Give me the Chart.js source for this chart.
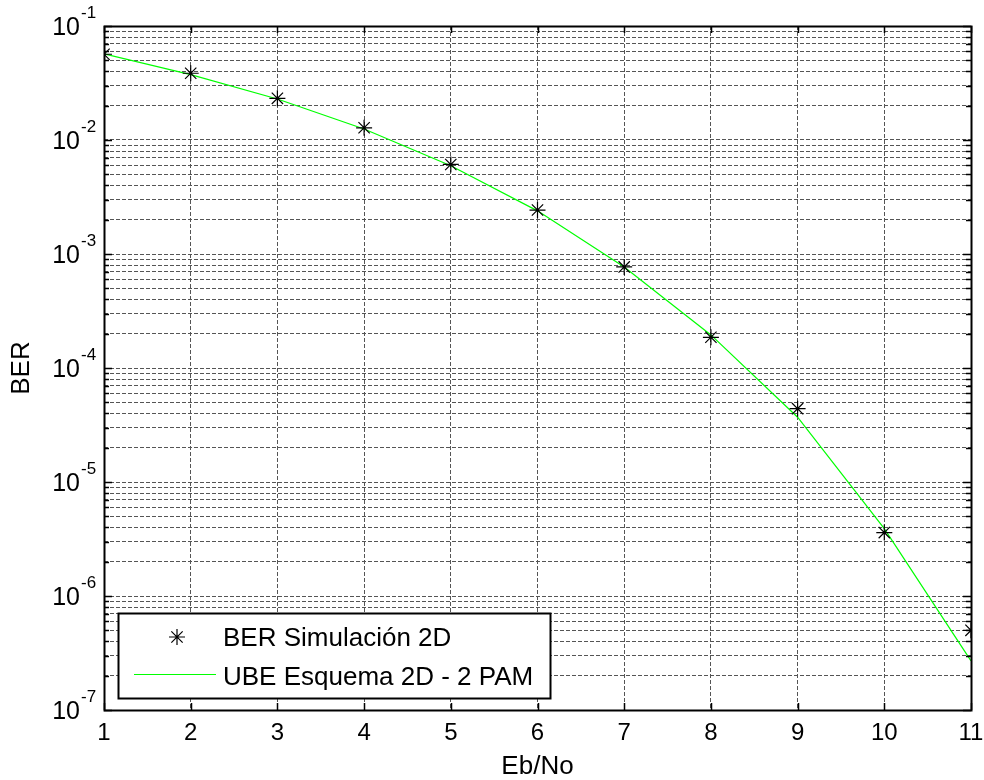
<!DOCTYPE html>
<html>
<head>
<meta charset="utf-8">
<script src="https://cdn.jsdelivr.net/npm/chart.js@4.4.1/dist/chart.umd.min.js"></script>
<style>
  html, body { margin: 0; padding: 0; background: #fff; }
  #wrap { width: 984px; height: 780px; }
</style>
</head>
<body>
<div id="wrap"><canvas id="berChart" width="984" height="780"></canvas></div>
<script>
// Eb/No (dB) on x, BER on log y
const ebno = [1, 2, 3, 4, 5, 6, 7, 8, 9, 10, 11];
const berSim = [0.0565, 0.0385, 0.0232, 0.0128, 0.0061, 0.00243, 7.7e-4, 1.86e-4, 4.4e-5, 3.6e-6, 5.0e-7];
const berUbe = [0.057, 0.0375, 0.0229, 0.0125, 0.00595, 0.00239, 7.7e-4, 1.95e-4, 3.7e-5, 3.9e-6, 2.7e-7];

const xTicks = [1, 2, 3, 4, 5, 6, 7, 8, 9, 10, 11];
const yDecades = [-7, -6, -5, -4, -3, -2, -1];
const yMinorSteps = [2, 3, 4, 5, 6, 7, 8, 9];

const labelSim = 'BER Simulación 2D';
const labelUbe = 'UBE Esquema 2D - 2 PAM';

const FONT = '"Liberation Sans", Arial, sans-serif';

// every y grid value: decades plus 2..9 in between
const yTickVals = [];
yDecades.forEach(e => {
    yTickVals.push(Math.pow(10, e));
    if (e < -1) yMinorSteps.forEach(m => yTickVals.push(m * Math.pow(10, e)));
});

// frame, inward ticks, tick labels, axis titles, legend
const matlabAxes = {
    id: 'matlabAxes',
    afterDraw(chart) {
        const { ctx, chartArea: a, scales: { x, y } } = chart;
        ctx.save();

        // inward ticks
        ctx.strokeStyle = '#000';
        ctx.lineWidth = 1.5;
        ctx.setLineDash([]);
        ctx.beginPath();
        xTicks.forEach(v => {
            const px = Math.round(x.getPixelForValue(v)) + 0.5;
            ctx.moveTo(px, a.top); ctx.lineTo(px, a.top + 7);
            ctx.moveTo(px, a.bottom); ctx.lineTo(px, a.bottom - 7);
        });
        yTickVals.forEach(v => {
            const py = Math.round(y.getPixelForValue(v)) + 0.5;
            const major = Math.abs(Math.log10(v) - Math.round(Math.log10(v))) < 1e-9;
            const len = major ? 8 : 5;
            ctx.moveTo(a.left, py); ctx.lineTo(a.left + len, py);
            ctx.moveTo(a.right, py); ctx.lineTo(a.right - len, py);
        });
        ctx.stroke();

        // box
        ctx.lineWidth = 2;
        ctx.strokeRect(a.left + 0.5, a.top + 0.5, a.right - a.left, a.bottom - a.top);

        // x tick labels
        ctx.fillStyle = '#000';
        ctx.font = '24px ' + FONT;
        ctx.textAlign = 'center';
        ctx.textBaseline = 'middle';
        xTicks.forEach(v => ctx.fillText(String(v), x.getPixelForValue(v), a.bottom + 23));

        // y tick labels: 10 with superscript exponent
        yDecades.forEach(e => {
            const py = y.getPixelForValue(Math.pow(10, e));
            ctx.font = '25px ' + FONT;
            ctx.textAlign = 'right';
            ctx.textBaseline = 'middle';
            ctx.fillText('10', a.left - 24, py + 2);
            ctx.font = '17px ' + FONT;
            ctx.textAlign = 'left';
            ctx.fillText(String(e), a.left - 23, py - 13);
        });

        // axis titles
        ctx.font = '26px ' + FONT;
        ctx.textAlign = 'center';
        ctx.textBaseline = 'middle';
        ctx.fillText('Eb/No', (a.left + a.right) / 2, a.bottom + 57);
        ctx.save();
        ctx.translate(22, (a.top + a.bottom) / 2);
        ctx.rotate(-Math.PI / 2);
        ctx.fillText('BER', 0, 0);
        ctx.restore();

        // legend box
        const lx = 118, ly = 613, lw = 432, lh = 85;
        ctx.fillStyle = '#fff';
        ctx.fillRect(lx, ly, lw, lh);
        ctx.strokeStyle = '#000';
        ctx.lineWidth = 2;
        ctx.strokeRect(lx + 0.5, ly + 0.5, lw, lh);

        const ds = chart.data.datasets;
        // row 1: marker
        ctx.lineWidth = 1.2;
        ctx.strokeStyle = '#000';
        Chart.helpers.drawPoint(ctx, { pointStyle: 'star', radius: 8, borderWidth: 1.2 }, 177, 637);
        // row 2: line sample
        ctx.strokeStyle = ds[1].borderColor;
        ctx.lineWidth = 1.2;
        ctx.beginPath();
        ctx.moveTo(134, 674.5); ctx.lineTo(216, 674.5);
        ctx.stroke();

        ctx.fillStyle = '#000';
        ctx.font = '26px ' + FONT;
        ctx.textAlign = 'left';
        ctx.textBaseline = 'middle';
        ctx.fillText(ds[0].label, 223, 639);
        ctx.fillText(ds[1].label, 223, 678);

        ctx.restore();
    }
};

new Chart(document.getElementById('berChart'), {
    type: 'line',
    data: {
        datasets: [
            {
                label: labelSim,
                data: ebno.map((v, i) => ({ x: v, y: berSim[i] })),
                showLine: false,
                pointStyle: 'star',
                pointRadius: 8,
                pointBorderColor: '#000',
                pointBorderWidth: 1.2,
                borderColor: '#000',
                backgroundColor: '#000'
            },
            {
                label: labelUbe,
                data: ebno.map((v, i) => ({ x: v, y: berUbe[i] })),
                borderColor: '#00ff00',
                borderWidth: 1.2,
                pointRadius: 0,
                tension: 0,
                fill: false
            }
        ]
    },
    options: {
        responsive: false,
        animation: false,
        devicePixelRatio: 1,
        layout: { padding: { left: 104, right: 13, top: 26, bottom: 70 } },
        plugins: {
            legend: { display: false },
            tooltip: { enabled: false }
        },
        scales: {
            x: {
                type: 'linear',
                min: 1,
                max: 11,
                afterBuildTicks: s => { s.ticks = xTicks.map(v => ({ value: v })); },
                ticks: { display: false },
                grid: { color: '#555555', lineWidth: 1, drawTicks: false },
                border: { display: false, dash: [4, 2] },
                title: { display: false }
            },
            y: {
                type: 'logarithmic',
                min: 1e-7,
                max: 1e-1,
                afterBuildTicks: s => { s.ticks = yTickVals.map(v => ({ value: v })); },
                ticks: { display: false },
                grid: { color: '#555555', lineWidth: 1, drawTicks: false },
                border: { display: false, dash: [4, 2] },
                title: { display: false }
            }
        }
    },
    plugins: [matlabAxes]
});
</script>
</body>
</html>
